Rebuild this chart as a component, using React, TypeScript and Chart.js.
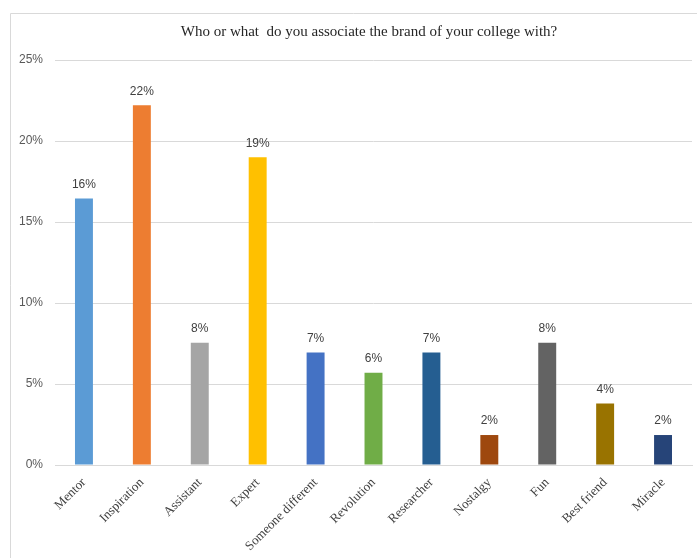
import React, { useEffect, useRef } from "react";
import { Chart, registerables } from "chart.js";

Chart.register(...registerables);

const categories = [
  "Mentor",
  "Inspiration",
  "Assistant",
  "Expert",
  "Someone different",
  "Revolution",
  "Researcher",
  "Nostalgy",
  "Fun",
  "Best friend",
  "Miracle",
];
const values = [16.45, 22.2, 7.55, 19.0, 6.95, 5.7, 6.95, 1.85, 7.55, 3.8, 1.85];
const barColors = [
  "#5B9BD5",
  "#ED7D31",
  "#A5A5A5",
  "#FFC000",
  "#4472C4",
  "#70AD47",
  "#255E91",
  "#9E480E",
  "#636363",
  "#997300",
  "#264478",
];
const titleText = "Who or what  do you associate the brand of your college with?";

const framePlugin = {
  id: "frame",
  beforeDraw(chart: any) {
    const ctx = chart.ctx;
    ctx.save();
    ctx.strokeStyle = "#d9d9d9";
    ctx.lineWidth = 1;
    ctx.beginPath();
    ctx.moveTo(10.5, chart.height);
    ctx.lineTo(10.5, 13.5);
    ctx.lineTo(chart.width, 13.5);
    ctx.stroke();
    ctx.font = "15px 'Liberation Serif', 'Times New Roman', serif";
    ctx.fillStyle = "#262626";
    ctx.textAlign = "center";
    ctx.textBaseline = "middle";
    ctx.fillText(titleText, 369, 32);
    ctx.restore();
  },
};

const labelPlugin = {
  id: "barLabels",
  afterDatasetsDraw(chart: any) {
    const ctx = chart.ctx;
    const meta = chart.getDatasetMeta(0);
    ctx.save();
    ctx.font = "12px 'Liberation Sans', Arial, sans-serif";
    ctx.fillStyle = "#404040";
    ctx.textAlign = "center";
    ctx.textBaseline = "bottom";
    meta.data.forEach((bar: any, i: number) => {
      ctx.fillText(Math.round(values[i]) + "%", bar.x, bar.y - 8);
    });
    ctx.restore();
  },
};

export default function App() {
  const ref = useRef<HTMLCanvasElement>(null);
  useEffect(() => {
    if (!ref.current) return;
    const chart = new Chart(ref.current, {
      type: "bar",
      data: {
        labels: categories,
        datasets: [
          {
            data: values,
            backgroundColor: barColors,
            barPercentage: 0.31,
            categoryPercentage: 1,
          },
        ],
      },
      options: {
        responsive: false,
        animation: false,
        layout: { padding: { left: 10, right: 5, top: 60, bottom: 0 } },
        plugins: {
          legend: { display: false },
          tooltip: { enabled: false },
          title: { display: false },
        },
        scales: {
          x: {
            grid: { display: false, drawTicks: false },
            border: { display: true, color: "#d9d9d9" },
            ticks: {
              minRotation: 45,
              maxRotation: 45,
              autoSkip: false,
              padding: 10,
              color: "#404040",
              font: { family: "'Liberation Serif', 'Times New Roman', serif", size: 13 },
            },
            afterFit(scale: any) {
              scale.height = 93;
            },
          },
          y: {
            min: 0,
            max: 25,
            grid: { color: "#d9d9d9", drawTicks: false },
            border: { display: false },
            ticks: {
              stepSize: 5,
              padding: 12,
              color: "#595959",
              font: { family: "'Liberation Sans', Arial, sans-serif", size: 12 },
              callback: (v: any) => v + "%",
            },
            afterFit(scale: any) {
              scale.width = 45;
            },
          },
        },
      },
      plugins: [framePlugin, labelPlugin],
    });
    return () => chart.destroy();
  }, []);
  return (
    <div style={{ position: "absolute", left: 0, top: 0, width: 697, height: 558, background: "#fff" }}>
      <canvas ref={ref} width={697} height={558} />
    </div>
  );
}
